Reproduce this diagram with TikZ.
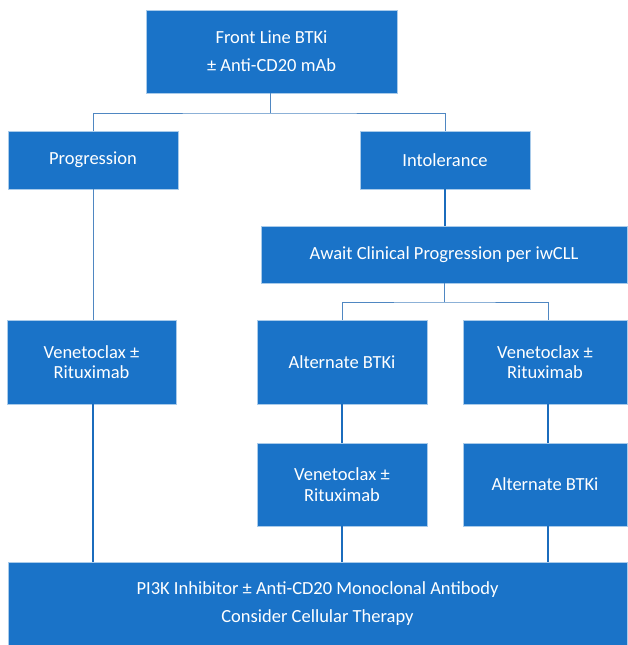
\documentclass[tikz,border=0pt]{standalone}
\usepackage{fontspec}
\setmainfont{Carlito}
\definecolor{boxblue}{HTML}{1A73C8}
\definecolor{edgeblue}{HTML}{A9CBEA}
\definecolor{linkblue}{HTML}{1B6CBD}
\definecolor{treeblue}{HTML}{4F87C2}

\begin{document}
\begin{tikzpicture}[x=1pt,y=-1pt,
        box/.style={fill=boxblue,draw=edgeblue,line width=0.5pt,text=white,
            align=center,inner sep=0pt,font=\fontsize{18.5}{20.5}\selectfont},
        link/.style={linkblue,line width=1.6pt},
        tree/.style={treeblue,line width=1pt}]
        \useasboundingbox (0,0) rectangle (627,645);
        \node[box,minimum width=251pt,minimum height=83pt] (front) at (271.5,51.5)
            {Front Line BTKi\\[7.5pt] ± Anti-CD20 mAb};
        \node[box,minimum width=170pt,minimum height=58pt] (prog) at (93,160) {Progression};
        \node[box,minimum width=170pt,minimum height=58pt] (intol) at (445,160) {Intolerance};
        \node[box,minimum width=366pt,minimum height=57pt] (await) at (444,254.5)
            {Await Clinical Progression per iwCLL};
        \node[box,minimum width=169pt,minimum height=84pt] (ven1) at (91.5,362)
            {Venetoclax ±\\Rituximab};
        \node[box,minimum width=170pt,minimum height=84pt] (alt1) at (342,362) {Alternate BTKi};
        \node[box,minimum width=164pt,minimum height=84pt] (ven2) at (545,362)
            {Venetoclax ±\\Rituximab};
        \node[box,minimum width=170pt,minimum height=83pt] (ven3) at (342,484.5)
            {Venetoclax ±\\Rituximab};
        \node[box,minimum width=164pt,minimum height=83pt] (alt2) at (545,484.5) {Alternate BTKi};
        \node[box,minimum width=619pt,minimum height=83pt] (pik) at (317.5,603.5)
            {PI3K Inhibitor ± Anti-CD20 Monoclonal Antibody\\[7.5pt] Consider Cellular Therapy};
        % branch points
        \coordinate (split1) at (270,113);
        \coordinate (split2) at (444,302);
        \draw[tree] (front.south -| split1) -- (split1);
        \draw[tree] (prog.north) |- (split1) -| (intol.north);
        \draw[tree] (await.south) -- (split2);
        \draw[tree] (alt1.north) |- (split2) -| ([xshift=3pt]ven2.north);
        \draw[link] (intol.south) -- (intol.south |- await.north);
        \draw[tree] (prog.south) -- (prog.south |- ven1.north);
        \draw[link] ([xshift=1.5pt]ven1.south) -- ([xshift=1.5pt]ven1.south |- pik.north);
        \draw[link] (alt1.south) -- (ven3.north);
        \draw[link] ([xshift=3pt]ven2.south) -- ([xshift=3pt]alt2.north);
        \draw[link] (ven3.south) -- (ven3.south |- pik.north);
        \draw[link] ([xshift=3pt]alt2.south) -- ([xshift=3pt]alt2.south |- pik.north);
    \end{tikzpicture}
\end{document}
